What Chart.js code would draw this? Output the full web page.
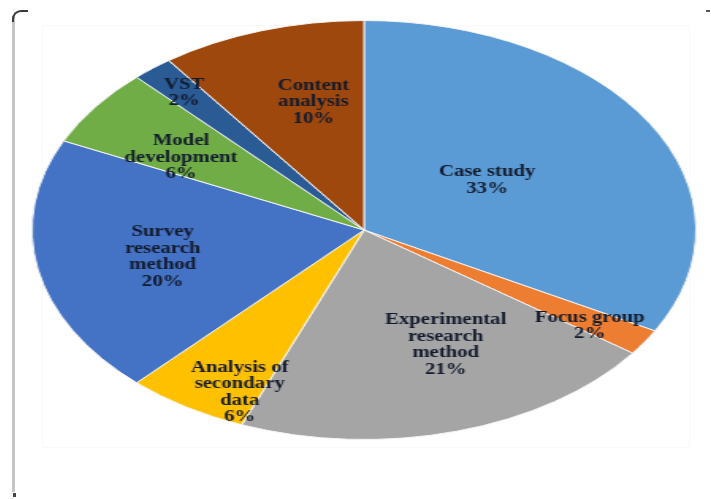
<!DOCTYPE html>
<html>
<head>
<meta charset="utf-8">
<script src="https://cdn.jsdelivr.net/npm/chart.js@4"></script>
<style>
  html, body { margin: 0; padding: 0; background: #ffffff; }
  body { width: 711px; height: 499px; position: relative; overflow: hidden; }
  #wrap { position: absolute; left: 154px; top: 20px; width: 420px; height: 420px;
          transform: scaleX(1.585); transform-origin: 50% 50%; }
  #frameLine { position: absolute; left: 12px; top: 16px; width: 3px; height: 476px; background: #c4c4c4; }
  #frameHook { position: absolute; left: 12px; top: 10px; width: 14px; height: 10px;
               border-top: 2px solid #3a3a3a; border-left: 2px solid #3a3a3a; border-top-left-radius: 9px; }
  #frameDot { position: absolute; left: 13px; top: 493px; width: 3px; height: 4px; background: #444; }
  #markTR { position: absolute; left: 706px; top: 10px; width: 4px; height: 2px; background: #555; }
  #inner { position: absolute; left: 42px; top: 25px; width: 646px; height: 421px; border: 1px solid #f9f9f9; }
</style>
</head>
<body>
<div id="inner"></div>
<div id="frameLine"></div>
<div id="frameHook"></div>
<div id="frameDot"></div>
<div id="markTR"></div>
<div id="wrap"><canvas id="c" width="420" height="420"></canvas></div>
<script>
const categories = ['Case study', 'Focus group', 'Experimental research method', 'Analysis of secondary data',
                    'Survey research method', 'Model development', 'VST', 'Content analysis'];
const categoryLines = [
  ['Case study'],
  ['Focus group'],
  ['Experimental', 'research', 'method'],
  ['Analysis of', 'secondary', 'data'],
  ['Survey', 'research', 'method'],
  ['Model', 'development'],
  ['VST'],
  ['Content', 'analysis']
];
const values = [33, 2, 21, 6, 20, 6, 2, 10];
const colors = ['#5B9BD5', '#ED7D31', '#A5A5A5', '#FFC000', '#4472C4', '#70AD47', '#2A5B95', '#9E480E'];

const labelPlugin = {
  id: 'sliceLabels',
  afterDatasetsDraw(chart, args, opts) {
    const meta = chart.getDatasetMeta(0);
    const ctx = chart.ctx;
    meta.data.forEach((arc, i) => {
      const p = arc.getProps(['x', 'y', 'startAngle', 'endAngle', 'outerRadius'], true);
      const mid = (p.startAngle + p.endAngle) / 2 + opts.angleShift[i] * Math.PI / 180;
      const r = p.outerRadius * opts.radii[i];
      const px = p.x + Math.cos(mid) * r;
      const py = p.y + Math.sin(mid) * r;
      const lines = categoryLines[i].concat([values[i] + '%']);
      ctx.save();
      ctx.translate(px, py);
      ctx.scale(opts.textStretch / opts.pieStretch, 1);
      ctx.font = 'bold 16px "Liberation Serif", "Times New Roman", serif';
      ctx.fillStyle = '#121a2c';
      ctx.textAlign = 'center';
      ctx.textBaseline = 'middle';
      const lh = 16.5;
      lines.forEach((t, k) => ctx.fillText(t, 0, (k - (lines.length - 1) / 2) * lh));
      ctx.restore();
    });
  }
};

new Chart(document.getElementById('c'), {
  type: 'pie',
  data: {
    labels: categories,
    datasets: [{
      data: values,
      backgroundColor: colors,
      borderColor: '#f4f4f4',
      borderWidth: 1
    }]
  },
  options: {
    responsive: false,
    animation: false,
    layout: { padding: 0 },
    plugins: {
      legend: { display: false },
      tooltip: { enabled: false },
      sliceLabels: {
        radii: [0.44, 0.82, 0.60, 0.86, 0.62, 0.65, 0.85, 0.63],
        angleShift: [-2, 1.6, -8, -6.6, -1.2, -4, 0, 4],
        textStretch: 1.3,
        pieStretch: 1.585
      }
    }
  },
  plugins: [labelPlugin]
});
</script>
</body>
</html>
